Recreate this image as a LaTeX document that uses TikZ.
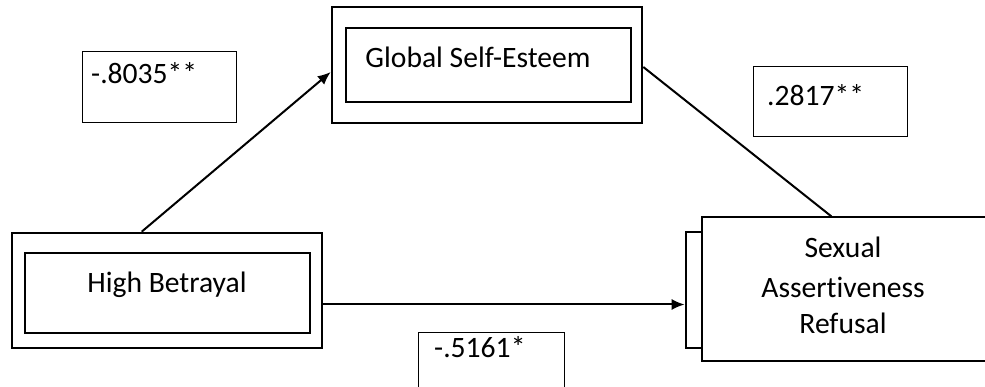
\documentclass[tikz,border=0pt]{standalone}
\usepackage{fontspec}
\setmainfont[Ligatures=NoCommon]{Carlito}
\usetikzlibrary{arrows.meta}
\begin{document}
\begin{tikzpicture}[x=1pt,y=-1pt,
  lbl/.style={font=\fontsize{29.6}{36}\selectfont, inner sep=0pt},
  outerbox/.style={draw, line width=2.6pt, inner sep=0pt},
  innerbox/.style={draw, line width=1.2pt, inner sep=0pt},
  coefbox/.style={draw, line width=1pt, inner sep=0pt},
  path/.style={line width=2pt},
  arr/.style={path, -{Latex[length=13pt,width=11pt]}}]
\useasboundingbox (0,0) rectangle (985,387);

% High Betrayal
\node[outerbox, minimum width=310pt, minimum height=115pt] (hb) at (167,290.5) {};
\node[innerbox, minimum width=285pt, minimum height=80pt] (hbin) at (167.5,293) {};
\node[lbl] (hbt) at (167,285) {High Betrayal};

% Global Self-Esteem
\node[outerbox, minimum width=310pt, minimum height=116pt] (gse) at (487,65) {};
\node[innerbox, minimum width=285pt, minimum height=74pt] (gsein) at (488.5,65) {};
\node[lbl] (gset) at (478,57) {Global Self-Esteem};

% Sexual Assertiveness Refusal
\node[outerbox, minimum width=40pt, minimum height=116pt] (sarback) at (706,290) {};
\node[draw, fill=white, line width=1.2pt, minimum width=300pt, minimum height=144pt, inner sep=0pt] (sar) at (852,289) {};
\node[lbl] (sar1) at (843,247) {Sexual};
\node[lbl] (sar2) at (843,287) {Assertiveness};
\node[lbl] (sar3) at (843,323) {Refusal};

% path coefficients
\node[coefbox, minimum width=154pt, minimum height=71pt] (c1) at (159,87.5) {};
\node[lbl, anchor=west] (c1t) at (91,73) {-.8035**};
\node[coefbox, minimum width=154pt, minimum height=70pt] (c2) at (830,102) {};
\node[lbl, anchor=west] (c2t) at (767,95) {.2817**};
\node[coefbox, minimum width=146pt, minimum height=70pt] (c3) at (491,367) {};
\node[lbl, anchor=west] (c3t) at (434,347) {-.5161*};

% connectors
\draw[arr] ([xshift=131pt]hb.north west) -- ([yshift=-7pt]gse.west);
\draw[path] ([yshift=-2pt]gse.east) -- ([xshift=130pt]sar.north west);
\draw[arr] ([yshift=-14pt]hb.east) -- ([yshift=-14pt]hb.east -| sarback.west);
\end{tikzpicture}
\end{document}
